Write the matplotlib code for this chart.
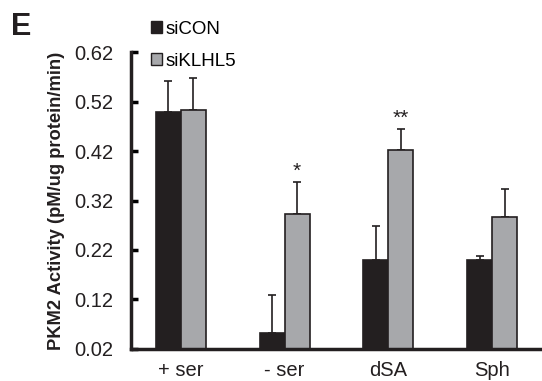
import numpy as np
import matplotlib.pyplot as plt
from matplotlib.patches import Patch

plt.rcParams['font.family'] = ['Liberation Sans', 'DejaVu Sans']

conditions = ["+ ser", "- ser", "dSA", "Sph"]
sicon = [0.499, 0.052, 0.200, 0.200]
sicon_err = [0.062, 0.077, 0.068, 0.008]
siklhl5 = [0.503, 0.293, 0.422, 0.287]
siklhl5_err = [0.064, 0.064, 0.042, 0.056]
stars = ["", "*", "**", ""]

black = "#231f20"
grey = "#a7a8ab"
base = 0.02

fig = plt.figure(figsize=(5.42, 3.81), dpi=100)
ax = fig.add_axes([0.2417, 0.084, 0.7583, 0.7795])

x = np.arange(len(conditions))
w = 0.24
h1 = [v - base for v in sicon]
h2 = [v - base for v in siklhl5]
ax.bar(x - w/2, h1, w, bottom=base, color=black, edgecolor=black, linewidth=1.2, zorder=2)
ax.bar(x + w/2, h2, w, bottom=base, color=grey, edgecolor=black, linewidth=1.2, zorder=2)
ax.errorbar(x - w/2, sicon, yerr=[np.zeros(4), sicon_err], fmt='none', ecolor=black,
            elinewidth=1.2, capsize=3, capthick=1.2, zorder=1)
ax.errorbar(x + w/2, siklhl5, yerr=[np.zeros(4), siklhl5_err], fmt='none', ecolor=black,
            elinewidth=1.2, capsize=3, capthick=1.2, zorder=1)
for i, s in enumerate(stars):
    if s:
        ax.text(x[i] + w/2, siklhl5[i] + siklhl5_err[i] + 0.002, s, ha='center', va='bottom',
                fontsize=15, color=black)

ax.set_xlim(-0.48, 3.48)
ax.set_ylim(0.02, 0.62)
ax.set_yticks([0.02, 0.12, 0.22, 0.32, 0.42, 0.52, 0.62])
ax.set_yticklabels(["0.02", "0.12", "0.22", "0.32", "0.42", "0.52", "0.62"], fontsize=14.5, color=black)
ax.set_xticks(x)
ax.set_xticklabels(conditions, fontsize=14.5, color=black)
ax.tick_params(axis='y', direction='in', length=5, width=2.5, pad=13)
ax.tick_params(axis='x', length=0, pad=9)
for sp in ['top', 'right']:
    ax.spines[sp].set_visible(False)
for sp in ['left', 'bottom']:
    ax.spines[sp].set_linewidth(2.5)
    ax.spines[sp].set_color(black)
ax.set_ylabel("PKM2 Activity (pM/ug protein/min)", fontsize=13.2, fontweight='bold',
              color=black, labelpad=6)

handles = [Patch(facecolor=black, edgecolor=black), Patch(facecolor=grey, edgecolor=black)]
fig.legend(handles, ["siCON", "siKLHL5"], loc='upper left', bbox_to_anchor=(0.278, 0.945),
           frameon=False, fontsize=13.5, handlelength=0.6, handleheight=0.6,
           handletextpad=0.2, labelspacing=0.8, borderpad=0, borderaxespad=0)

fig.text(0.02, 0.968, "E", fontsize=22, fontweight='bold', va='top', ha='left', color=black)

fig.savefig("out.png", dpi=100)
